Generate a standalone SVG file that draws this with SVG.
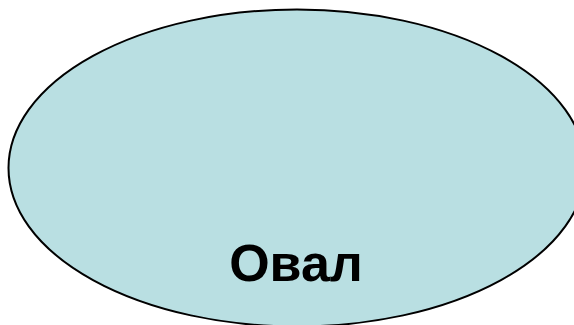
<svg xmlns="http://www.w3.org/2000/svg" width="574" height="325" viewBox="0 0 574 325">
<style>
.shape{fill:#b9dfe2;stroke:#000;stroke-width:2}
.lbl{font-family:"Liberation Sans",Arial,sans-serif;font-weight:bold;font-size:52px;fill:#000}
</style>
<rect width="574" height="325" fill="#fff"/>
<g id="oval">
<ellipse class="shape" cx="297" cy="168" rx="288.5" ry="158.5"/>
<text class="lbl" x="296" y="281" text-anchor="middle">Овал</text>
</g>
<g id="connectors"></g>
</svg>
